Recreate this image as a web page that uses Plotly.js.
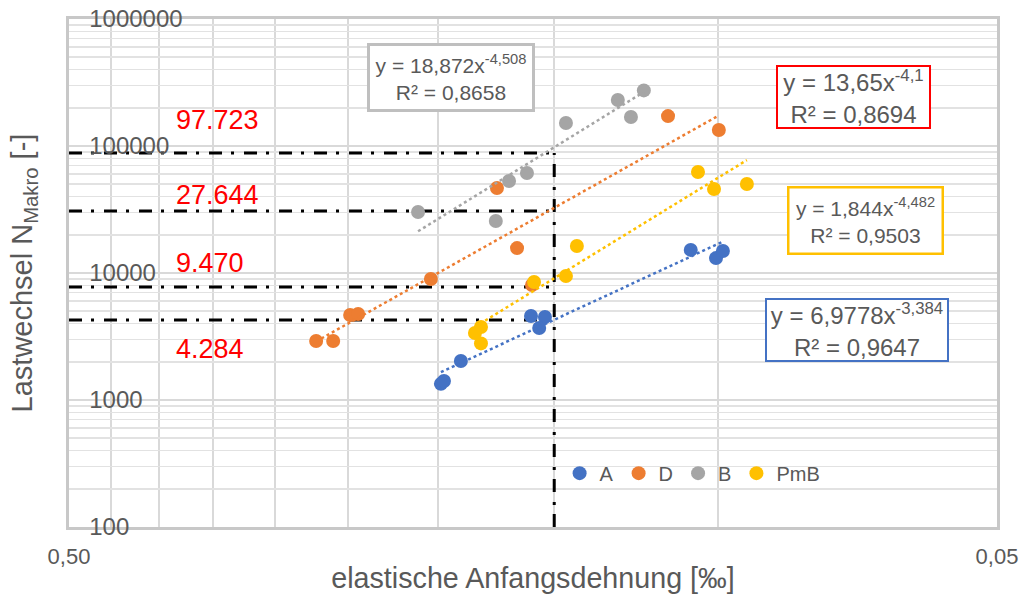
<!DOCTYPE html>
<html><head><meta charset="utf-8">
<script src="https://cdn.plot.ly/plotly-3.0.1.min.js"></script>
<style>html,body{margin:0;padding:0;background:#fff}#chart{width:1030px;height:610px}</style>
</head><body><div id="chart"></div>
<script>
// ---- data ----
const seriesNames = ['A', 'D', 'B', 'PmB'];
const seriesColors = ['#4472C4', '#ED7D31', '#A5A5A5', '#FFC000'];

const strainA = [0.1987, 0.1972, 0.1891, 0.1589, 0.1535, 0.1557, 0.1069, 0.1004, 0.0987];
const cyclesA = [1340, 1410, 2030, 4590, 4500, 3690, 15200, 13100, 14900];

const strainD = [0.2708, 0.2596, 0.2489, 0.2440, 0.2037, 0.1729, 0.1645, 0.1585, 0.1131, 0.0997];
const cyclesD = [2915, 2915, 4670, 4760, 8970, 46700, 15700, 8050, 172000, 133700];

const strainB = [0.2103, 0.1734, 0.1678, 0.1605, 0.1457, 0.1281, 0.1240, 0.1201];
const cyclesB = [30200, 25700, 53000, 61300, 151800, 230000, 169000, 274000];

const strainPmB = [0.1826, 0.1799, 0.1799, 0.1577, 0.1457, 0.1418, 0.1050, 0.1009, 0.0930];
const cyclesPmB = [3370, 3760, 2790, 8500, 9470, 16300, 62400, 45900, 50200];

// power trendlines y = a * x^b (as printed in the chart)
const trendCoef = [6.9778, 13.65, 18.872, 1.844];
const trendExp = [-3.384, -4.1, -4.508, -4.482];
const trendText = [
  'y = 6,9778x<sup>-3,384</sup><br>R² = 0,9647',
  'y = 13,65x<sup>-4,1</sup><br>R² = 0,8694',
  'y = 18,872x<sup>-4,508</sup><br>R² = 0,8658',
  'y = 1,844x<sup>-4,482</sup><br>R² = 0,9503'
];

// reference (dash-dot) lines
const refStrain = 0.15;
const refStrainStart = 0.5;
const refLevels = [88100, 30800, 7770, 4265];
const refLabels = ['97.723', '27.644', '9.470', '4.284'];

// axes
const xTickVals = [0.5, 0.05];
const xTickLabels = ['0,50', '0,05'];
const xGridVals = [0.45, 0.40, 0.35, 0.30, 0.25, 0.20, 0.15, 0.10];
const yTickVals = [100, 1000, 10000, 100000, 1000000];
const yTickLabels = ['100', '1000', '10000', '100000', '1000000'];

// ---- build ----
const FONT = 'Liberation Sans, Arial, Helvetica, sans-serif';
const TXT = '#595959';
const xs = [strainA, strainD, strainB, strainPmB];
const ys = [cyclesA, cyclesD, cyclesB, cyclesPmB];

const traces = [];
const dashPattern = '13px,9px,3px,10px';
refLevels.forEach(v => {
  traces.push({x: [refStrainStart, refStrain], y: [v, v], mode: 'lines', type: 'scatter',
    line: {color: '#000', width: 3, dash: dashPattern}, showlegend: false, hoverinfo: 'skip'});
});
traces.push({x: [refStrain, refStrain], y: [yTickVals[0], refLevels[0]], mode: 'lines', type: 'scatter',
  line: {color: '#000', width: 3, dash: dashPattern}, showlegend: false, hoverinfo: 'skip'});

xs.forEach((xv, i) => {
  traces.push({x: xv, y: ys[i], mode: 'markers', type: 'scatter', name: seriesNames[i],
    marker: {color: seriesColors[i], size: 14}});
});
xs.forEach((xv, i) => {
  const x0 = Math.max(...xv), x1 = Math.min(...xv);
  const tx = [x0, x1];
  const ty = tx.map(x => trendCoef[i] * Math.pow(x, trendExp[i]));
  traces.push({x: tx, y: ty, mode: 'lines', type: 'scatter', showlegend: false, hoverinfo: 'skip',
    line: {color: seriesColors[i], width: 2.5, dash: 'dot'}});
});

const yMinor = [];
for (let e = 2; e < 6; e++) for (let d = 2; d <= 9; d++) yMinor.push(d * Math.pow(10, e));

const annotations = [];
const redY = [0.801, 0.6535, 0.5197, 0.3504];
refLabels.forEach((t, i) => annotations.push({xref: 'paper', yref: 'paper', x: 0.113, y: redY[i],
  xanchor: 'left', yanchor: 'middle', showarrow: false, text: t,
  font: {family: FONT, size: 27, color: '#FF0000'}}));

const boxes = [
  {i: 0, x: 0.8491, y: 0.3878, w: 178, h: 58, bw: 2, size: 24},
  {i: 1, x: 0.8454, y: 0.8465, w: 149, h: 58, bw: 2, size: 24, border: '#FF0000'},
  {i: 2, x: 0.4116, y: 0.8848, w: 160, h: 61, bw: 3, size: 21, border: '#BFBFBF'},
  {i: 3, x: 0.8578, y: 0.6043, w: 150, h: 62, bw: 2.5, size: 21}
];
boxes.forEach(b => annotations.push({xref: 'paper', yref: 'paper', x: b.x, y: b.y,
  xanchor: 'center', yanchor: 'middle', showarrow: false, text: trendText[b.i],
  width: b.w, height: b.h, borderwidth: b.bw, borderpad: 1, bgcolor: '#fff',
  bordercolor: b.border || seriesColors[b.i], align: 'center', valign: 'middle',
  font: {family: FONT, size: b.size, color: TXT}}));

const layout = {
  width: 1030, height: 610,
  margin: {l: 69, r: 33, t: 19, b: 83},
  paper_bgcolor: '#fff', plot_bgcolor: '#fff',
  font: {family: FONT, color: TXT},
  showlegend: true,
  legend: {orientation: 'h', x: 0.672, xanchor: 'center', y: 0.106, yanchor: 'middle',
    font: {family: FONT, size: 20, color: TXT}, bgcolor: 'rgba(0,0,0,0)', itemwidth: 30},
  xaxis: {type: 'log', range: [Math.log10(0.50001), Math.log10(0.049999)],
    tickmode: 'array', tickvals: xTickVals, ticktext: xTickLabels,
    ticks: '', ticklabelstandoff: 8, ticklabeloverflow: 'allow',
    tickfont: {family: FONT, size: 22, color: TXT},
    showgrid: true, gridcolor: '#d9d9d9', gridwidth: 2,
    minor: {tickmode: 'array', tickvals: xGridVals, showgrid: true, gridcolor: '#d9d9d9', gridwidth: 2, ticks: ''},
    showline: true, linecolor: '#c8c8c8', linewidth: 3, mirror: true, zeroline: false,
    title: {text: 'elastische Anfangsdehnung [‰]', font: {family: FONT, size: 28.7, color: TXT}, standoff: 0}},
  yaxis: {type: 'log', range: [1.99999, 6.00001],
    tickmode: 'array', tickvals: yTickVals, ticktext: yTickLabels,
    ticks: '', ticklabelposition: 'inside', ticklabelstandoff: 22, ticklabeloverflow: 'allow',
    tickfont: {family: FONT, size: 24, color: TXT},
    showgrid: true, gridcolor: '#d9d9d9', gridwidth: 2.5,
    minor: {tickmode: 'array', tickvals: yMinor, showgrid: true, gridcolor: '#e2e2e2', gridwidth: 1.5, ticks: ''},
    showline: true, linecolor: '#c8c8c8', linewidth: 3, mirror: true, zeroline: false,
    title: {text: 'Lastwechsel N<sub>Makro</sub> [-]', font: {family: FONT, size: 29, color: TXT}, standoff: 49}},
  annotations: annotations
};

Plotly.newPlot('chart', traces, layout, {displayModeBar: false, staticPlot: true});
</script>
</body></html>
